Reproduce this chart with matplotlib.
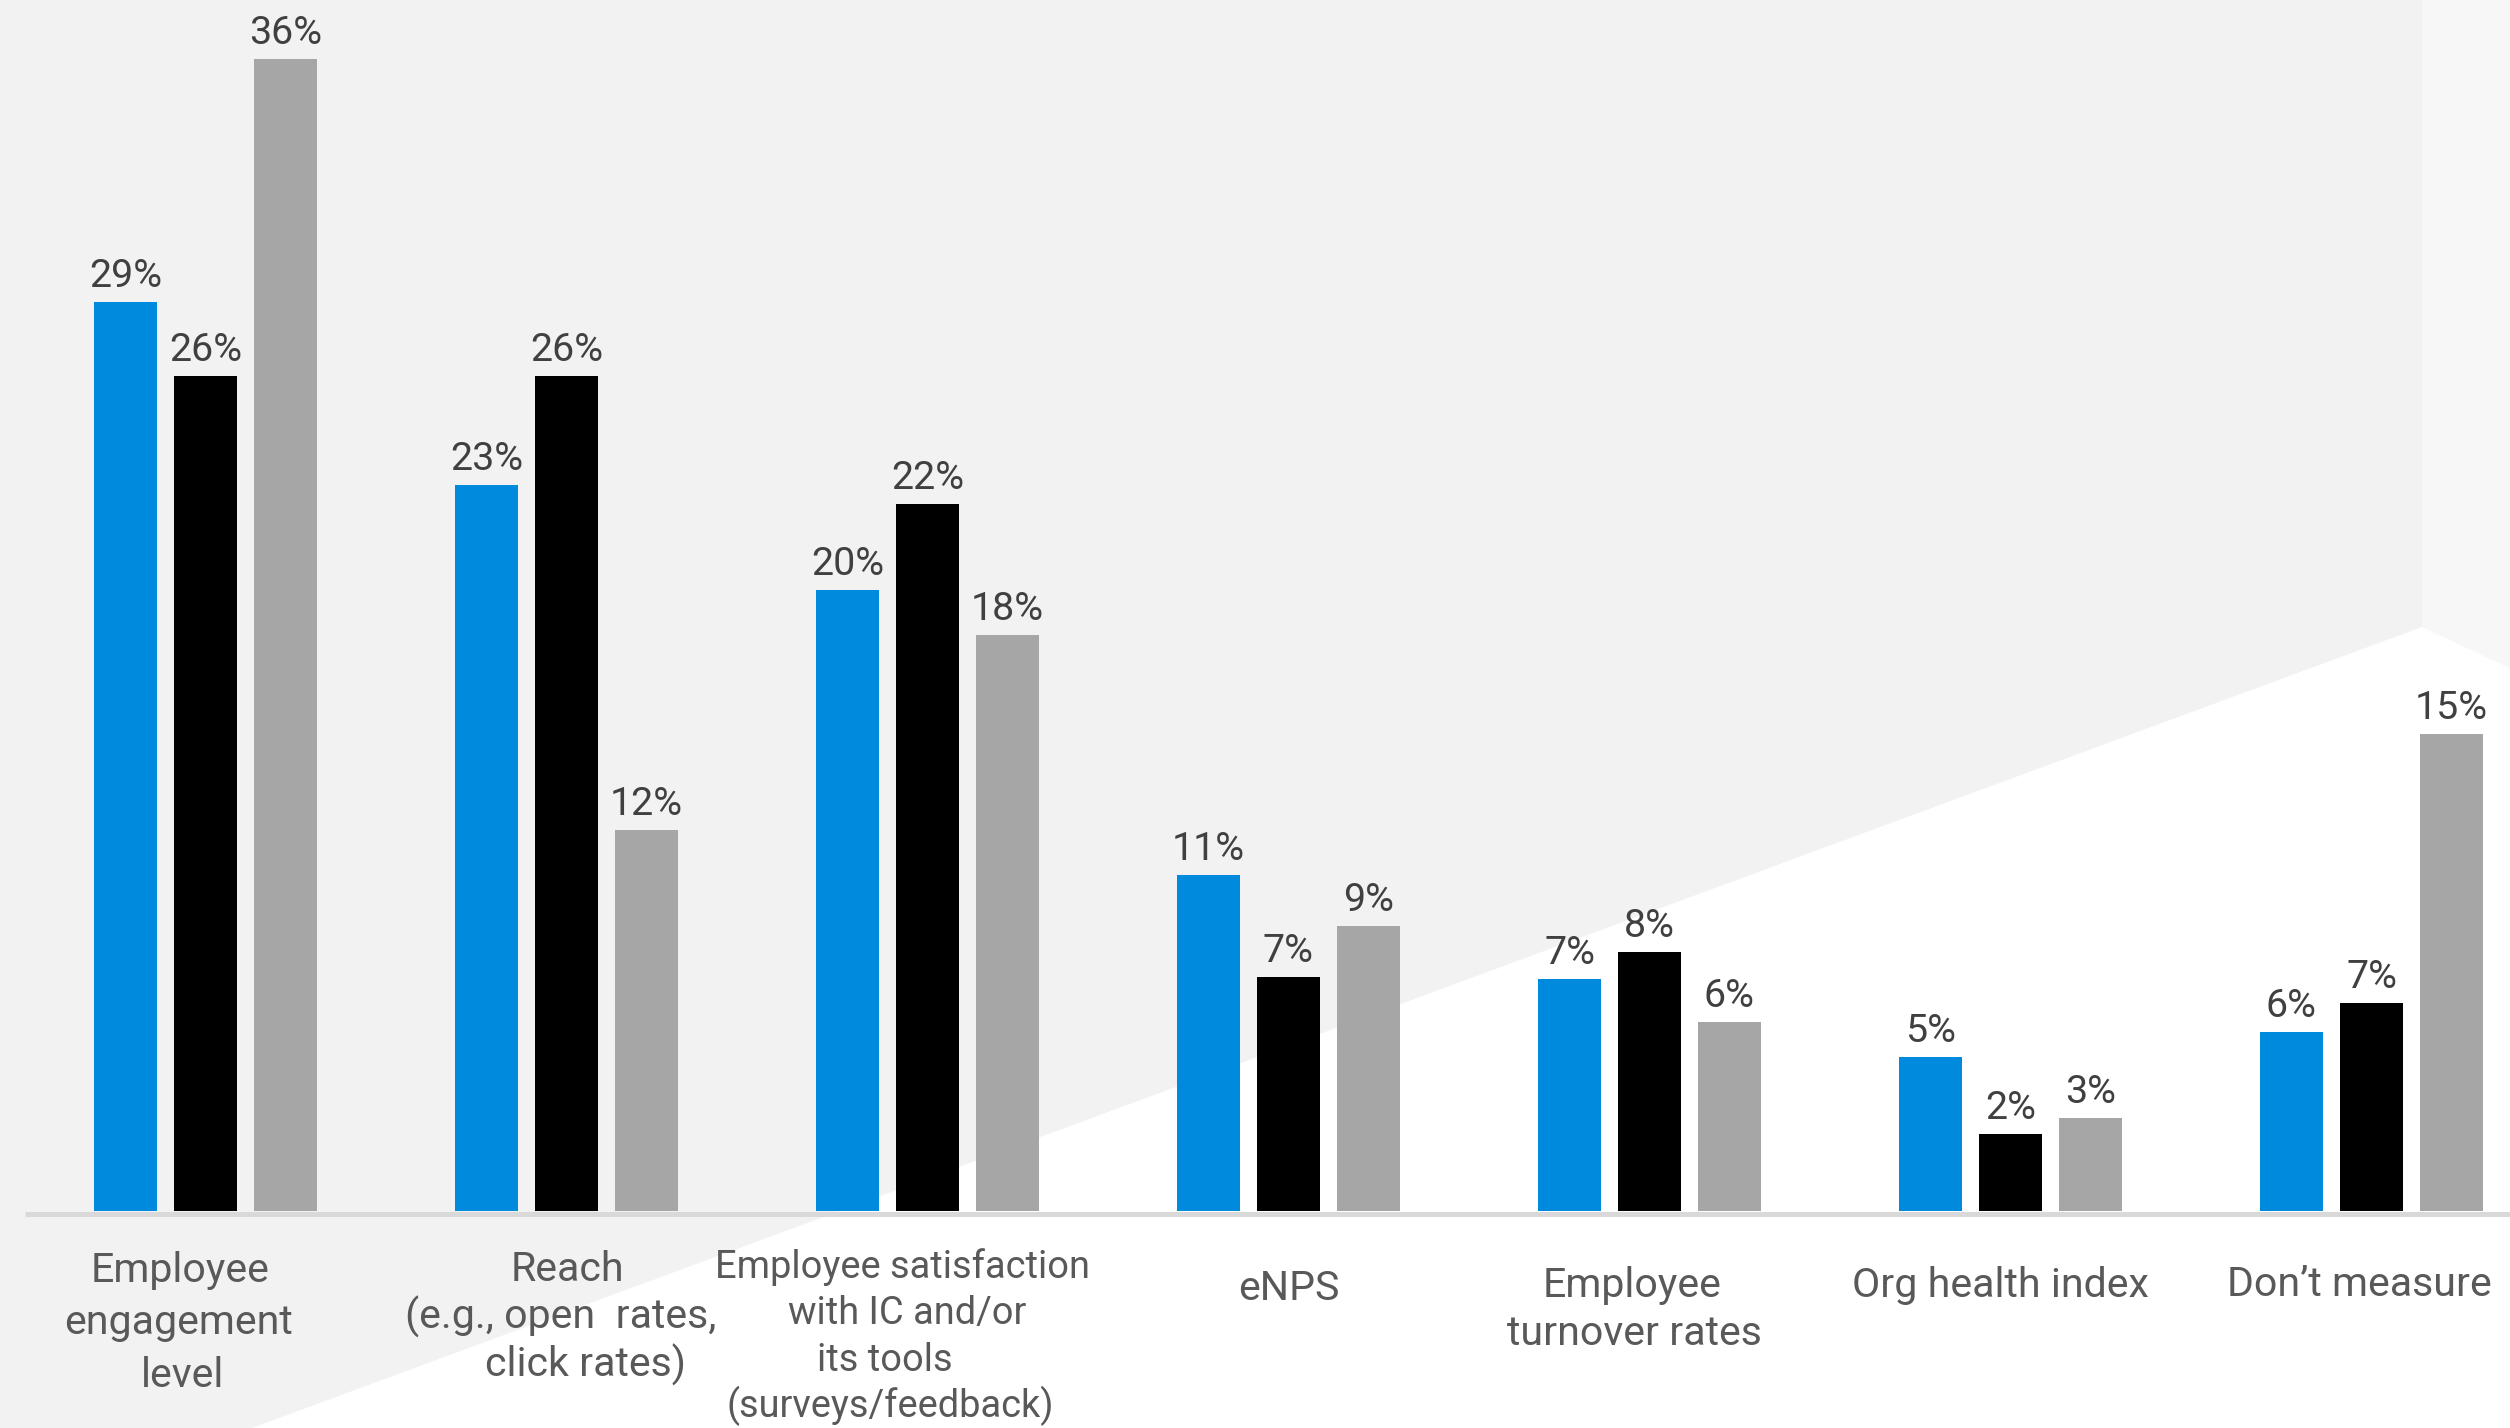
import numpy as np
import matplotlib
matplotlib.use("Agg")
import matplotlib.pyplot as plt
from matplotlib.patches import Polygon
from matplotlib.transforms import blended_transform_factory

plt.rcParams['font.family'] = ['Roboto', 'DejaVu Sans']

categories = [["Employee", "engagement", "level"],
              ["Reach", "(e.g., open  rates,", "click rates)"],
              ["Employee satisfaction", "with IC and/or", "its tools", "(surveys/feedback)"],
              ["eNPS"],
              ["Employee", "turnover rates"],
              ["Org health index"],
              ["Don\u2019t measure"]]

blue_vals = [28.4, 22.7, 19.4, 10.5, 7.25, 4.8, 5.6]
black_vals = [26.1, 26.1, 22.1, 7.3, 8.1, 2.4, 6.5]
gray_vals = [36.0, 11.9, 18.0, 8.9, 5.9, 2.9, 14.9]
blue_labels = [29, 23, 20, 11, 7, 5, 6]
black_labels = [26, 26, 22, 7, 8, 2, 7]
gray_labels = [36, 12, 18, 9, 6, 3, 15]

colors = ['#008ade', '#000000', '#a6a6a6']

# layout (pixels): per-line x shift, first-line baseline, line pitch, font size
lab_dx = [[-25, -27, -23], [1, -6, 19], [-25, -20, -43, -37], [0], [-17, -15], [-10], [-12]]
lab_base = [1282, 1281, 1278, 1300, 1297, 1297, 1296]
lab_pitch = [52.5, 48, 46.5, 48, 48, 48, 48]
lab_size = [29.6, 29.6, 27.4, 29.6, 29.6, 29.6, 29.6]

W, H = 2510, 1428
fig = plt.figure(figsize=(W / 100, H / 100), dpi=100)

# background in pixel coordinates
bg = fig.add_axes([0, 0, 1, 1])
bg.set_xlim(0, W)
bg.set_ylim(H, 0)
bg.axis('off')
bg.add_patch(Polygon([(0, 0), (W, 0), (W, H), (0, H)], closed=True,
                     facecolor='#f2f2f2', edgecolor='none'))
bg.add_patch(Polygon([(2422, 0), (W, 0), (W, 668), (2422, 627)], closed=True,
                     facecolor='#f7f7f7', edgecolor='none'))
bg.add_patch(Polygon([(252, H), (2422, 627), (W, 668), (W, H)], closed=True,
                     facecolor='white', edgecolor='none'))
bg.plot([25, W], [1213.5, 1213.5], color='#d9d9d9', lw=3.6, solid_capstyle='butt')

# main axes: 32 px per percent point, baseline at 1211 px
base_px = 1211
ppp = 32.0
pitch = 361.0
ax = fig.add_axes([0, (H - base_px) / H, 1, base_px / H])
ax.patch.set_alpha(0)
ax.set_ylim(0, base_px / ppp)
ax.set_xlim(-205.5 / pitch, (W - 205.5) / pitch)
ax.axis('off')

x = np.arange(len(categories))
bw = 63 / pitch
off = 80 / pitch
series = [(blue_vals, blue_labels), (black_vals, black_labels), (gray_vals, gray_labels)]
for k, (vals, labs) in enumerate(series):
    xs = x + (k - 1) * off
    ax.bar(xs, vals, width=bw, color=colors[k], zorder=3)
    for xi, v, lab in zip(xs, vals, labs):
        ax.annotate(f"{lab}%", (xi, v), xytext=(0, 15), textcoords='offset pixels',
                    ha='center', va='baseline', fontsize=28.4, color='#404040')

tr = blended_transform_factory(ax.transData, bg.transData)
for i, lines in enumerate(categories):
    for j, line in enumerate(lines):
        ax.text(x[i] + lab_dx[i][j] / pitch, lab_base[i] + j * lab_pitch[i], line,
                transform=tr, ha='center', va='baseline',
                fontsize=lab_size[i], color='#595959', clip_on=False)

fig.savefig('out.png', dpi=100)
